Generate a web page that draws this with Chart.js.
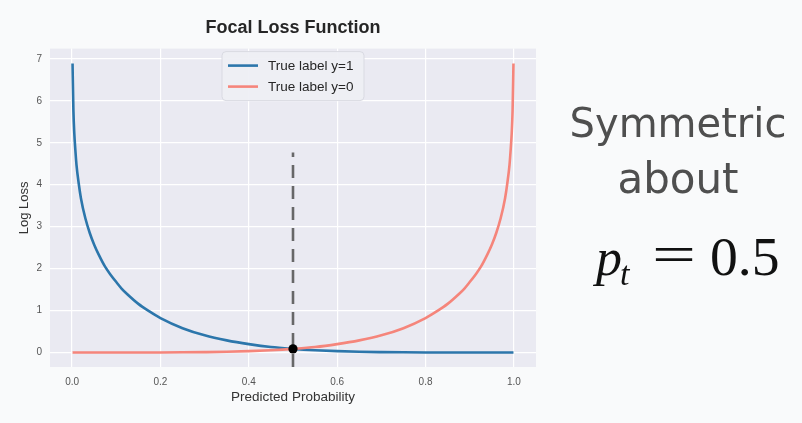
<!DOCTYPE html>
<html><head><meta charset="utf-8">
<script src="https://cdn.jsdelivr.net/npm/chart.js@4.4.1/dist/chart.umd.min.js"></script>
<style>html,body{margin:0;padding:0;background:#f9fafb;} canvas{display:block;}</style>
</head><body>
<canvas id="c" width="802" height="423"></canvas>
<script>
// ---- data ----
const probs      = [0.001, 0.003, 0.005, 0.0075, 0.01, 0.015, 0.02, 0.03, 0.04, 0.05, 0.06, 0.075, 0.0875, 0.1, 0.1125, 0.125, 0.15, 0.175, 0.2, 0.25, 0.3, 0.35, 0.4, 0.45, 0.5, 0.55, 0.6, 0.65, 0.7, 0.75, 0.8, 0.825, 0.85, 0.875, 0.8875, 0.9, 0.9125, 0.925, 0.94, 0.95, 0.96, 0.97, 0.98, 0.985, 0.99, 0.9925, 0.995, 0.997, 0.999];
const lossTrue1  = [6.89, 5.76, 5.22, 4.81, 4.47, 4.03, 3.68, 3.20, 2.85, 2.57, 2.34, 2.04, 1.85, 1.68, 1.52, 1.39, 1.16, 0.98, 0.82, 0.58, 0.41, 0.29, 0.20, 0.13, 0.087, 0.055, 0.033, 0.018, 0.010, 0.005, 0.002, 0.001, 0.001, 0.0, 0.0, 0.0, 0.0, 0.0, 0.0, 0.0, 0.0, 0.0, 0.0, 0.0, 0.0, 0.0, 0.0, 0.0, 0.0];
const lossTrue0  = [0.0, 0.0, 0.0, 0.0, 0.0, 0.0, 0.0, 0.0, 0.0, 0.0, 0.0, 0.0, 0.0, 0.0, 0.0, 0.0, 0.001, 0.001, 0.002, 0.005, 0.010, 0.018, 0.033, 0.055, 0.087, 0.13, 0.20, 0.29, 0.41, 0.58, 0.82, 0.98, 1.16, 1.39, 1.52, 1.68, 1.85, 2.04, 2.34, 2.57, 2.85, 3.20, 3.68, 4.03, 4.47, 4.81, 5.22, 5.76, 6.89];
const seriesLabels = ['True label y=1', 'True label y=0'];
const chartTitle = 'Focal Loss Function';
const xTitle = 'Predicted Probability';
const yTitle = 'Log Loss';
const xTicks = [0.0, 0.2, 0.4, 0.6, 0.8, 1.0];
const xTickLabels = ['0.0', '0.2', '0.4', '0.6', '0.8', '1.0'];
const yTicks = [0, 1, 2, 3, 4, 5, 6, 7];
const yTickLabels = ['0', '1', '2', '3', '4', '5', '6', '7'];
const markX = [0.5];
const markY = [0.087];
const guideX = [0.5, 0.5];
const guideY = [-0.345, 4.77];
const noteLines = ['Symmetric', 'about'];
const noteEq = ['p', 't', '=', '0.5'];

// ---- styles ----
const BLUE = '#2c76ab';
const RED = '#f5857b';
const PLOT_BG = '#eaeaf2';
const PAGE_BG = '#f9fafb';

const bgPlugin = {
  id: 'bg',
  beforeDraw(chart) {
    const {ctx, chartArea: a} = chart;
    ctx.save();
    ctx.fillStyle = PAGE_BG;
    ctx.fillRect(0, 0, chart.width, chart.height);
    ctx.fillStyle = PLOT_BG;
    ctx.fillRect(a.left, a.top, a.right - a.left, a.bottom - a.top);
    ctx.restore();
  }
};

const legendPlugin = {
  id: 'mplLegend',
  afterDraw(chart) {
    const {ctx, chartArea: a} = chart;
    const cx = (a.left + a.right) / 2;
    const w = 142, h = 49;
    const left = cx - w / 2, top = a.top + 3;
    ctx.save();
    ctx.beginPath();
    ctx.roundRect(left, top, w, h, 4);
    ctx.fillStyle = 'rgba(238,239,244,0.92)';
    ctx.fill();
    ctx.strokeStyle = '#d9dae2';
    ctx.lineWidth = 1;
    ctx.stroke();
    const ds = [chart.data.datasets[0], chart.data.datasets[1]];
    ds.forEach((d, i) => {
      const y = top + 14 + i * 21;
      ctx.beginPath();
      ctx.moveTo(left + 6, y);
      ctx.lineTo(left + 36, y);
      ctx.strokeStyle = d.borderColor;
      ctx.lineWidth = 2.6;
      ctx.stroke();
      ctx.fillStyle = '#262626';
      ctx.font = '13.5px "Liberation Sans", Arial, sans-serif';
      ctx.textBaseline = 'middle';
      ctx.textAlign = 'left';
      ctx.fillText(d.label, left + 46, y + 0.5);
    });
    ctx.restore();
  }
};

const notePlugin = {
  id: 'note',
  afterDraw(chart) {
    const ctx = chart.ctx;
    ctx.save();
    ctx.fillStyle = '#4f4f4f';
    ctx.textAlign = 'center';
    ctx.textBaseline = 'alphabetic';
    ctx.font = '40px "DejaVu Sans", sans-serif';
    ctx.fillText(noteLines[0], 678, 137);
    ctx.font = '42px "DejaVu Sans", sans-serif';
    ctx.fillText(noteLines[1], 678, 193);
    // equation
    ctx.fillStyle = '#111';
    ctx.textAlign = 'left';
    ctx.font = 'italic 52px "Liberation Serif", serif';
    ctx.fillText(noteEq[0], 596, 275);
    const pw = ctx.measureText(noteEq[0]).width;
    ctx.font = 'italic 34px "Liberation Serif", serif';
    ctx.fillText(noteEq[1], 596 + pw - 2, 285);
    ctx.save();
    ctx.translate(674, 272);
    ctx.scale(1.5, 1);
    ctx.font = '52px "Liberation Serif", serif';
    ctx.textAlign = 'center';
    ctx.fillText(noteEq[2], 0, 0);
    ctx.restore();
    ctx.save();
    ctx.translate(710, 275);
    ctx.scale(1.03, 1);
    ctx.font = '54px "Liberation Serif", serif';
    ctx.textAlign = 'left';
    ctx.fillText(noteEq[3], 0, 0);
    ctx.restore();
    ctx.restore();
  }
};

const toXY = (xs, ys) => xs.map((x, i) => ({x: x, y: ys[i]}));

new Chart(document.getElementById('c'), {
  type: 'scatter',
  data: {
    datasets: [
      {label: seriesLabels[0], data: toXY(probs, lossTrue1), showLine: true, borderColor: BLUE, backgroundColor: BLUE,
       borderWidth: 2.6, pointRadius: 0, cubicInterpolationMode: 'monotone', order: 4},
      {label: seriesLabels[1], data: toXY(probs, lossTrue0), showLine: true, borderColor: RED, backgroundColor: RED,
       borderWidth: 2.6, pointRadius: 0, cubicInterpolationMode: 'monotone', order: 3},
      {label: 'guide', data: toXY(guideX, guideY), showLine: true, borderColor: 'rgba(80,80,80,0.85)',
       borderWidth: 2.6, borderDash: [13, 8], pointRadius: 0, order: 2},
      {label: 'mark', data: toXY(markX, markY), showLine: false, pointRadius: 4.6, pointBackgroundColor: '#000',
       pointBorderColor: '#000', pointBorderWidth: 0, order: 1}
    ]
  },
  options: {
    responsive: false,
    animation: false,
    devicePixelRatio: 1,
    layout: {padding: {left: 0, right: 266, top: 0, bottom: 0}},
    plugins: {
      legend: {display: false},
      tooltip: {enabled: false},
      title: {
        display: true, text: chartTitle, fullSize: false, color: '#262626',
        font: {family: '"Liberation Sans", Arial, sans-serif', size: 18, weight: 'bold'},
        padding: {top: 17, bottom: 10}
      }
    },
    scales: {
      x: {
        type: 'linear', min: -0.05, max: 1.05,
        afterBuildTicks: s => { s.ticks = xTicks.map(v => ({value: v})); },
        afterFit: s => { s.height = 56; },
        ticks: {includeBounds: false, padding: 9, color: '#555', font: {family: '"Liberation Sans", Arial, sans-serif', size: 10},
                callback: (v) => { const i = xTicks.findIndex(t => Math.abs(t - v) < 1e-9); return i >= 0 ? xTickLabels[i] : ''; }},
        grid: {color: '#ffffff', lineWidth: 1.2, drawTicks: false},
        border: {display: false},
        title: {display: true, text: xTitle, color: '#333', font: {family: '"Liberation Sans", Arial, sans-serif', size: 13.5}, padding: {bottom: 18, top: 0}}
      },
      y: {
        type: 'linear', min: -0.345, max: 7.245,
        afterBuildTicks: s => { s.ticks = yTicks.map(v => ({value: v})); },
        afterFit: s => { s.width = 50; },
        ticks: {includeBounds: false, padding: 8, color: '#555', font: {family: '"Liberation Sans", Arial, sans-serif', size: 10},
                callback: (v) => { const i = yTicks.indexOf(v); return i >= 0 ? yTickLabels[i] : ''; }},
        grid: {color: '#ffffff', lineWidth: 1.2, drawTicks: false},
        border: {display: false},
        title: {display: true, text: yTitle, color: '#333', font: {family: '"Liberation Sans", Arial, sans-serif', size: 13}, padding: {top: 17, bottom: 0}}
      }
    }
  },
  plugins: [bgPlugin, legendPlugin, notePlugin]
});
</script>
</body></html>
